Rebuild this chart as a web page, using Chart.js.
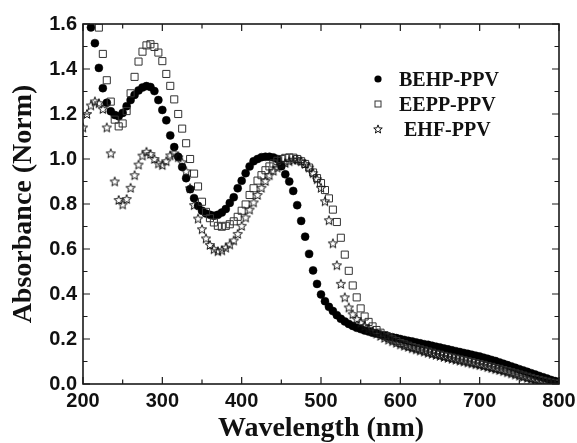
<!DOCTYPE html>
<html><head><meta charset="utf-8">
<script src="https://cdn.jsdelivr.net/npm/chart.js@4.4.0/dist/chart.umd.min.js"></script>
<style>html,body{margin:0;padding:0;background:#fff}</style>
</head><body>
<canvas id="c" width="577" height="443"></canvas>
<script>
const wavelengths = [200,205,210,215,220,225,230,235,240,245,250,255,260,265,270,275,280,285,290,295,
300,305,310,315,320,325,330,335,340,345,350,355,360,365,370,375,380,385,390,395,
400,405,410,415,420,425,430,435,440,445,450,455,460,465,470,475,480,485,490,495,
500,505,510,515,520,525,530,535,540,545,550,555,560,565,570,575,580,585,590,595,
600,605,610,615,620,625,630,635,640,645,650,655,660,665,670,675,680,685,690,695,
700,705,710,715,720,725,730,735,740,745,750,755,760,765,770,775,780,785,790,795,800];

const behpPPV = [null,null,1.585,1.515,1.405,1.315,1.25,1.212,1.196,1.19,1.205,1.235,1.262,1.285,1.305,1.318,1.324,1.32,1.302,1.262,
1.218,1.172,1.105,1.053,1.01,0.965,0.915,0.866,0.826,0.792,0.77,0.758,0.752,0.748,0.752,0.762,0.778,0.805,0.83,0.87,
0.903,0.937,0.967,0.99,1.0,1.008,1.01,1.01,1.007,1.0,0.968,0.932,0.9,0.858,0.795,0.725,0.655,0.578,0.505,0.445,
0.398,0.368,0.343,0.324,0.306,0.29,0.278,0.267,0.258,0.25,0.244,0.238,0.233,0.228,0.224,0.22,0.216,0.212,0.208,0.204,
0.2,0.196,0.192,0.189,0.185,0.181,0.177,0.174,0.17,0.166,0.162,0.158,0.154,0.15,0.146,0.142,0.138,0.134,0.13,0.126,
0.122,0.117,0.112,0.107,0.102,0.096,0.09,0.084,0.078,0.072,0.066,0.06,0.054,0.048,0.042,0.036,0.03,0.024,0.018,0.013,0.008];

const eeppPPV = [null,null,null,null,1.584,1.467,1.35,1.255,1.175,1.145,1.158,1.213,1.292,1.365,1.433,1.477,1.505,1.51,1.498,1.473,
1.435,1.378,1.325,1.265,1.2,1.135,1.07,1.0,0.935,0.878,0.81,0.765,0.737,0.718,0.703,0.699,0.703,0.71,0.723,0.743,
0.77,0.798,0.84,0.87,0.904,0.928,0.95,0.967,0.98,0.992,1.0,1.005,1.007,1.006,1.0,0.99,0.978,0.962,0.94,0.915,
0.893,0.862,0.825,0.775,0.72,0.65,0.575,0.503,0.438,0.385,0.336,0.3,0.276,0.256,0.24,0.228,0.217,0.207,0.198,0.19,
0.182,0.176,0.17,0.164,0.159,0.154,0.149,0.144,0.139,0.134,0.13,0.125,0.121,0.117,0.113,0.109,0.105,0.101,0.097,0.093,
0.089,0.085,0.08,0.076,0.071,0.067,0.062,0.057,0.052,0.047,0.042,0.037,0.032,0.027,0.022,0.018,0.014,0.01,0.006,0.003,0.0];

const ehfPPV = [1.14,1.2,1.238,1.256,1.248,1.222,1.14,1.025,0.9,0.818,0.798,0.822,0.872,0.928,0.975,1.015,1.032,1.022,1.0,0.98,
0.973,0.99,1.016,1.025,1.008,0.985,0.945,0.87,0.795,0.735,0.688,0.647,0.618,0.599,0.59,0.594,0.606,0.62,0.638,0.667,
0.703,0.74,0.775,0.807,0.84,0.872,0.902,0.928,0.948,0.962,0.974,0.982,0.99,0.996,0.997,0.99,0.978,0.962,0.937,0.91,
0.872,0.812,0.728,0.625,0.528,0.445,0.385,0.34,0.31,0.289,0.272,0.258,0.245,0.234,0.224,0.214,0.205,0.197,0.19,0.183,
0.176,0.17,0.165,0.159,0.154,0.149,0.144,0.139,0.134,0.129,0.125,0.12,0.116,0.112,0.108,0.104,0.1,0.096,0.092,0.088,
0.084,0.08,0.075,0.071,0.066,0.062,0.057,0.052,0.047,0.042,0.037,0.032,0.027,0.023,0.018,0.014,0.01,0.007,0.004,0.001,0.0];

const seriesNames = ['BEHP-PPV', 'EEPP-PPV', ' EHF-PPV'];
const xMajorTicks = [200, 300, 400, 500, 600, 700, 800];
const xMinorTicks = [250, 350, 450, 550, 650, 750];
const yMajorTicks = [0.0, 0.2, 0.4, 0.6, 0.8, 1.0, 1.2, 1.4, 1.6];
const yMinorTicks = [0.1, 0.3, 0.5, 0.7, 0.9, 1.1, 1.3, 1.5];

function toPoints(vals) {
  const out = [];
  vals.forEach((v, i) => { if (v !== null) out.push({x: wavelengths[i], y: v}); });
  return out;
}

// open five-pointed star marker
function makeStar(outer, inner) {
  const c = document.createElement('canvas');
  c.width = 12; c.height = 12;
  const g = c.getContext('2d');
  g.beginPath();
  for (let k = 0; k < 10; k++) {
    const r = k % 2 === 0 ? outer : inner;
    const a = -Math.PI / 2 + k * Math.PI / 5;
    const px = 6 + r * Math.cos(a), py = 6.4 + r * Math.sin(a);
    if (k === 0) g.moveTo(px, py); else g.lineTo(px, py);
  }
  g.closePath();
  g.strokeStyle = '#111';
  g.lineWidth = 1;
  g.stroke();
  return c;
}
const starImg = makeStar(4.9, 2.1);
const legendStar = makeStar(4.5, 1.9);

const frameTicks = {
  id: 'frameTicks',
  afterDraw(chart) {
    const {ctx, chartArea: a, scales: {x, y}} = chart;
    ctx.save();
    ctx.strokeStyle = '#1a1a1a';
    ctx.lineWidth = 1.2;
    ctx.beginPath();
    const vt = (v, len) => { const p = x.getPixelForValue(v);
      ctx.moveTo(p, a.bottom); ctx.lineTo(p, a.bottom - len);
      ctx.moveTo(p, a.top); ctx.lineTo(p, a.top + len); };
    const ht = (v, len) => { const p = y.getPixelForValue(v);
      ctx.moveTo(a.left, p); ctx.lineTo(a.left + len, p);
      ctx.moveTo(a.right, p); ctx.lineTo(a.right - len, p); };
    xMajorTicks.forEach(v => vt(v, 7));
    xMinorTicks.forEach(v => vt(v, 4.5));
    yMajorTicks.forEach(v => ht(v, 7));
    yMinorTicks.forEach(v => ht(v, 4.5));
    ctx.stroke();
    ctx.lineWidth = 1.6;
    ctx.strokeRect(a.left, a.top, a.right - a.left, a.bottom - a.top);
    ctx.restore();
  }
};

const insetLegend = {
  id: 'insetLegend',
  afterDraw(chart) {
    const ctx = chart.ctx;
    const mx = 378, my0 = 79, dy = 25, tx = 399;
    ctx.save();
    ctx.beginPath(); ctx.arc(mx, my0, 3.6, 0, Math.PI * 2);
    ctx.fillStyle = '#000'; ctx.fill();
    ctx.strokeStyle = '#333'; ctx.lineWidth = 1;
    ctx.strokeRect(mx - 3, my0 + dy - 3, 6, 6);
    ctx.drawImage(legendStar, mx - 6, my0 + 2 * dy - 6);
    ctx.fillStyle = '#111';
    ctx.font = 'bold 20px "Liberation Serif", "Times New Roman", serif';
    ctx.textBaseline = 'alphabetic';
    ctx.textAlign = 'left';
    seriesNames.forEach((n, i) => ctx.fillText(n, tx, my0 + i * dy + 7));
    ctx.restore();
  }
};

const tickFont = {family: '"Liberation Sans", Arial, sans-serif', weight: 'bold', size: 20};
const titleFont = {family: '"Liberation Serif", "Times New Roman", serif', weight: 'bold', size: 28, lineHeight: 1};

new Chart(document.getElementById('c'), {
  type: 'scatter',
  data: {
    datasets: [
      {label: seriesNames[0], data: toPoints(behpPPV), pointStyle: 'circle', pointRadius: 4,
       backgroundColor: '#000', borderColor: '#000', borderWidth: 0.5, order: 3, clip: 0},
      {label: seriesNames[1], data: toPoints(eeppPPV), pointStyle: 'rect', pointRadius: 5,
       backgroundColor: 'rgba(0,0,0,0)', borderColor: '#333', borderWidth: 1, order: 2, clip: 0},
      {label: seriesNames[2], data: toPoints(ehfPPV), pointStyle: starImg, pointRadius: 6,
       backgroundColor: 'rgba(0,0,0,0)', borderColor: '#333', order: 1, clip: 0}
    ]
  },
  options: {
    responsive: false,
    animation: false,
    devicePixelRatio: 1,
    layout: {padding: {top: 24, right: 18, left: 0, bottom: 0}},
    plugins: {legend: {display: false}, tooltip: {enabled: false}},
    events: [],
    scales: {
      x: {
        type: 'linear', min: 200, max: 800,
        afterFit(s) { s.height = 59; s.paddingLeft = 0; s.paddingRight = 0; },
        afterBuildTicks(s) { s.ticks = xMajorTicks.map(v => ({value: v})); },
        grid: {display: false, drawTicks: false},
        border: {display: false},
        ticks: {padding: 5, color: '#111', font: tickFont, maxRotation: 0, autoSkip: false},
        title: {display: true, text: 'Wavelength (nm)', color: '#111', font: titleFont, padding: {top: 0, bottom: 0.5}}
      },
      y: {
        type: 'linear', min: 0, max: 1.6,
        afterFit(s) { s.width = 83; s.paddingTop = 0; s.paddingBottom = 0; },
        afterBuildTicks(s) { s.ticks = yMajorTicks.map(v => ({value: v})); },
        grid: {display: false, drawTicks: false},
        border: {display: false},
        ticks: {padding: 6, color: '#111', font: tickFont, autoSkip: false,
                callback: v => Number(v).toFixed(1)},
        title: {display: true, text: 'Absorbance (Norm)', color: '#111', font: titleFont, padding: {top: 10, bottom: 0}}
      }
    }
  },
  plugins: [frameTicks, insetLegend]
});
</script>
</body></html>
